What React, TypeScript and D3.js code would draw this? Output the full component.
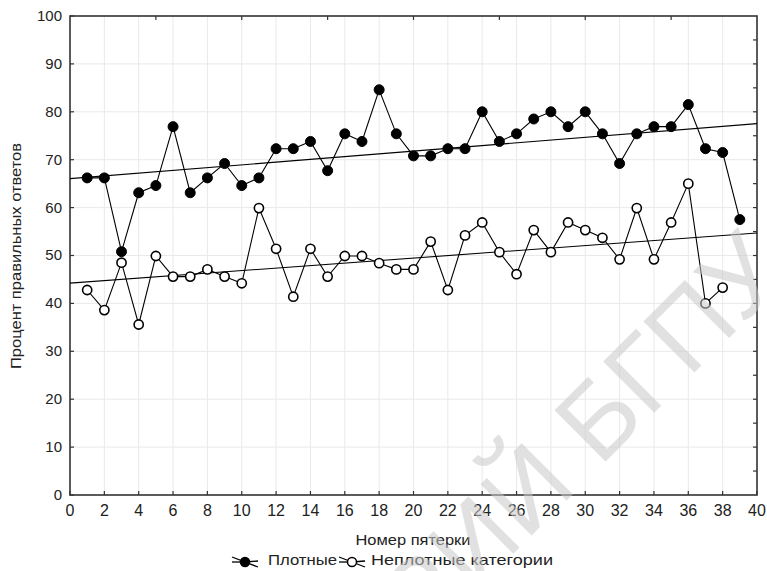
import React from "react";
import * as d3 from "d3";

const xValuesDense: number[] = d3.range(1, 40);
const denseValues: number[] = [
  66.2, 66.2, 50.8, 63.1, 64.6, 76.9, 63.1, 66.2, 69.2, 64.6,
  66.2, 72.3, 72.3, 73.8, 67.7, 75.4, 73.8, 84.6, 75.4, 70.8,
  70.8, 72.3, 72.3, 80.0, 73.8, 75.4, 78.5, 80.0, 76.9, 80.0,
  75.4, 69.2, 75.4, 76.9, 76.9, 81.5, 72.3, 71.5, 57.5,
];
const xValuesLoose: number[] = d3.range(1, 39);
const looseValues: number[] = [
  42.8, 38.6, 48.5, 35.6, 49.9, 45.6, 45.6, 47.1, 45.6, 44.2,
  59.9, 51.4, 41.4, 51.4, 45.6, 49.9, 49.9, 48.4, 47.1, 47.1,
  52.9, 42.8, 54.2, 56.9, 50.7, 46.1, 55.3, 50.7, 56.9, 55.3,
  53.7, 49.2, 59.9, 49.2, 56.9, 65.0, 40.0, 43.3,
];
const xTicks: number[] = d3.range(0, 41, 2);
const yTicks: number[] = d3.range(0, 101, 10);
const minorX: number[] = d3.range(5, 40, 5);
const minorY: number[] = d3.range(5, 100, 5);
const xTitle = "Номер пятерки";
const yTitle = "Процент правильных ответов";
const legendDense = "Плотные";
const legendLoose = "Неплотные категории";
const watermark = "РЕПОЗИТОРИЙ БГПУ";

function regression(xs: number[], ys: number[]) {
  const mx = d3.mean(xs) as number;
  const my = d3.mean(ys) as number;
  let num = 0;
  let den = 0;
  xs.forEach((xv, i) => {
    num += (xv - mx) * (ys[i] - my);
    den += (xv - mx) * (xv - mx);
  });
  const b = num / den;
  const a = my - b * mx;
  return (t: number) => a + b * t;
}

export default function App() {
  const W = 767;
  const H = 571;
  const x = d3.scaleLinear().domain([0, 40]).range([70, 757]);
  const y = d3.scaleLinear().domain([0, 100]).range([495, 16]);

  const dense = xValuesDense.map((xv, i) => [xv, denseValues[i]] as [number, number]);
  const loose = xValuesLoose.map((xv, i) => [xv, looseValues[i]] as [number, number]);
  const line = d3
    .line<[number, number]>()
    .x((d) => x(d[0]))
    .y((d) => y(d[1]));
  const fD = regression(xValuesDense, denseValues);
  const fL = regression(xValuesLoose, looseValues);
  const font = "'Liberation Sans', Arial, sans-serif";
  const txt = "#222";

  const legendSymbol = (cx: number, cy: number, filled: boolean) => (
    <g>
      <line x1={cx - 13} y1={cy - 5} x2={cx + 13} y2={cy + 5} stroke="#000" strokeWidth={1.3} />
      <line x1={cx - 13} y1={cy + 0} x2={cx} y2={cy} stroke="#000" strokeWidth={1.3} />
      <line x1={cx} y1={cy} x2={cx + 13} y2={cy - 1} stroke="#000" strokeWidth={1.3} />
      <circle cx={cx} cy={cy} r={4.5} fill={filled ? "#000" : "#fff"} stroke="#000" strokeWidth={1.5} />
    </g>
  );

  return (
    <svg
      width={W}
      height={H}
      style={{ position: "absolute", left: 0, top: 0, background: "#fff" }}
      fontFamily={font}
    >
      <rect x={0} y={0} width={W} height={H} fill="#fff" />
      {/* grid */}
      {xTicks
        .filter((t) => t > 0 && t < 40)
        .map((t) => (
          <line key={"gx" + t} x1={x(t)} x2={x(t)} y1={y(100)} y2={y(0)} stroke="#e9e9e9" strokeWidth={1} />
        ))}
      {yTicks
        .filter((t) => t > 0 && t < 100)
        .map((t) => (
          <line key={"gy" + t} x1={x(0)} x2={x(40)} y1={y(t)} y2={y(t)} stroke="#e9e9e9" strokeWidth={1} />
        ))}
      {/* ticks */}
      {xTicks.map((t) => (
        <line key={"tx" + t} x1={x(t)} x2={x(t)} y1={y(0)} y2={y(0) - 4} stroke="#333" strokeWidth={1.2} />
      ))}
      {yTicks.map((t) => (
        <line key={"ty" + t} x1={x(0)} x2={x(0) + 4} y1={y(t)} y2={y(t)} stroke="#333" strokeWidth={1.2} />
      ))}
      {minorX.map((t) => (
        <line key={"mx" + t} x1={x(t)} x2={x(t)} y1={y(100)} y2={y(100) + 4} stroke="#333" strokeWidth={1.2} />
      ))}
      {minorY.map((t) => (
        <line key={"my" + t} x1={x(40)} x2={x(40) - 4} y1={y(t)} y2={y(t)} stroke="#333" strokeWidth={1.2} />
      ))}
      {/* frame */}
      <rect
        x={x(0)}
        y={y(100)}
        width={x(40) - x(0)}
        height={y(0) - y(100)}
        fill="none"
        stroke="#333"
        strokeWidth={1.6}
      />
      {/* regression lines */}
      <line x1={x(0)} y1={y(fD(0))} x2={x(40)} y2={y(fD(40))} stroke="#000" strokeWidth={1.1} />
      <line x1={x(0)} y1={y(fL(0))} x2={x(40)} y2={y(fL(40))} stroke="#000" strokeWidth={1.1} />
      {/* series */}
      <path d={line(dense) || ""} fill="none" stroke="#000" strokeWidth={1.1} />
      <path d={line(loose) || ""} fill="none" stroke="#000" strokeWidth={1.1} />
      {dense.map((d, i) => (
        <circle key={"d" + i} cx={x(d[0])} cy={y(d[1])} r={5} fill="#000" stroke="#000" strokeWidth={1} />
      ))}
      {loose.map((d, i) => (
        <circle key={"l" + i} cx={x(d[0])} cy={y(d[1])} r={4.6} fill="#fff" stroke="#000" strokeWidth={1.6} />
      ))}
      {/* tick labels */}
      {xTicks.map((t) => (
        <text key={"lx" + t} x={x(t)} y={512} textAnchor="middle" dominantBaseline="middle" fontSize={16} fill={txt}>
          {t}
        </text>
      ))}
      {yTicks.map((t) => (
        <text key={"ly" + t} x={62} y={y(t) + 1} textAnchor="end" dominantBaseline="middle" fontSize={15} fill={txt}>
          {t}
        </text>
      ))}
      {/* axis titles */}
      <text x={413} y={541} textAnchor="middle" dominantBaseline="middle" fontSize={15.5} fill={txt}
        textLength={115} lengthAdjust="spacingAndGlyphs">
        {xTitle}
      </text>
      <text
        transform={`translate(17,256) rotate(-90)`}
        textAnchor="middle"
        dominantBaseline="middle"
        fontSize={15.5}
        fill={txt}
        textLength={226}
        lengthAdjust="spacingAndGlyphs"
      >
        {yTitle}
      </text>
      {/* legend */}
      {legendSymbol(245, 562, true)}
      <text x={268} y={561} dominantBaseline="middle" fontSize={15} fill={txt}
        textLength={69} lengthAdjust="spacingAndGlyphs">
        {legendDense}
      </text>
      {legendSymbol(352, 562, false)}
      <text x={371} y={561} dominantBaseline="middle" fontSize={15} fill={txt}
        textLength={182} lengthAdjust="spacingAndGlyphs">
        {legendLoose}
      </text>
      {/* watermark */}
      <text
        transform={`translate(789,278) rotate(-45)`}
        textAnchor="end"
        fontSize={105}
        fill="#c8c8c8"
        fillOpacity={0.55}
      >
        {watermark}
      </text>
    </svg>
  );
}
